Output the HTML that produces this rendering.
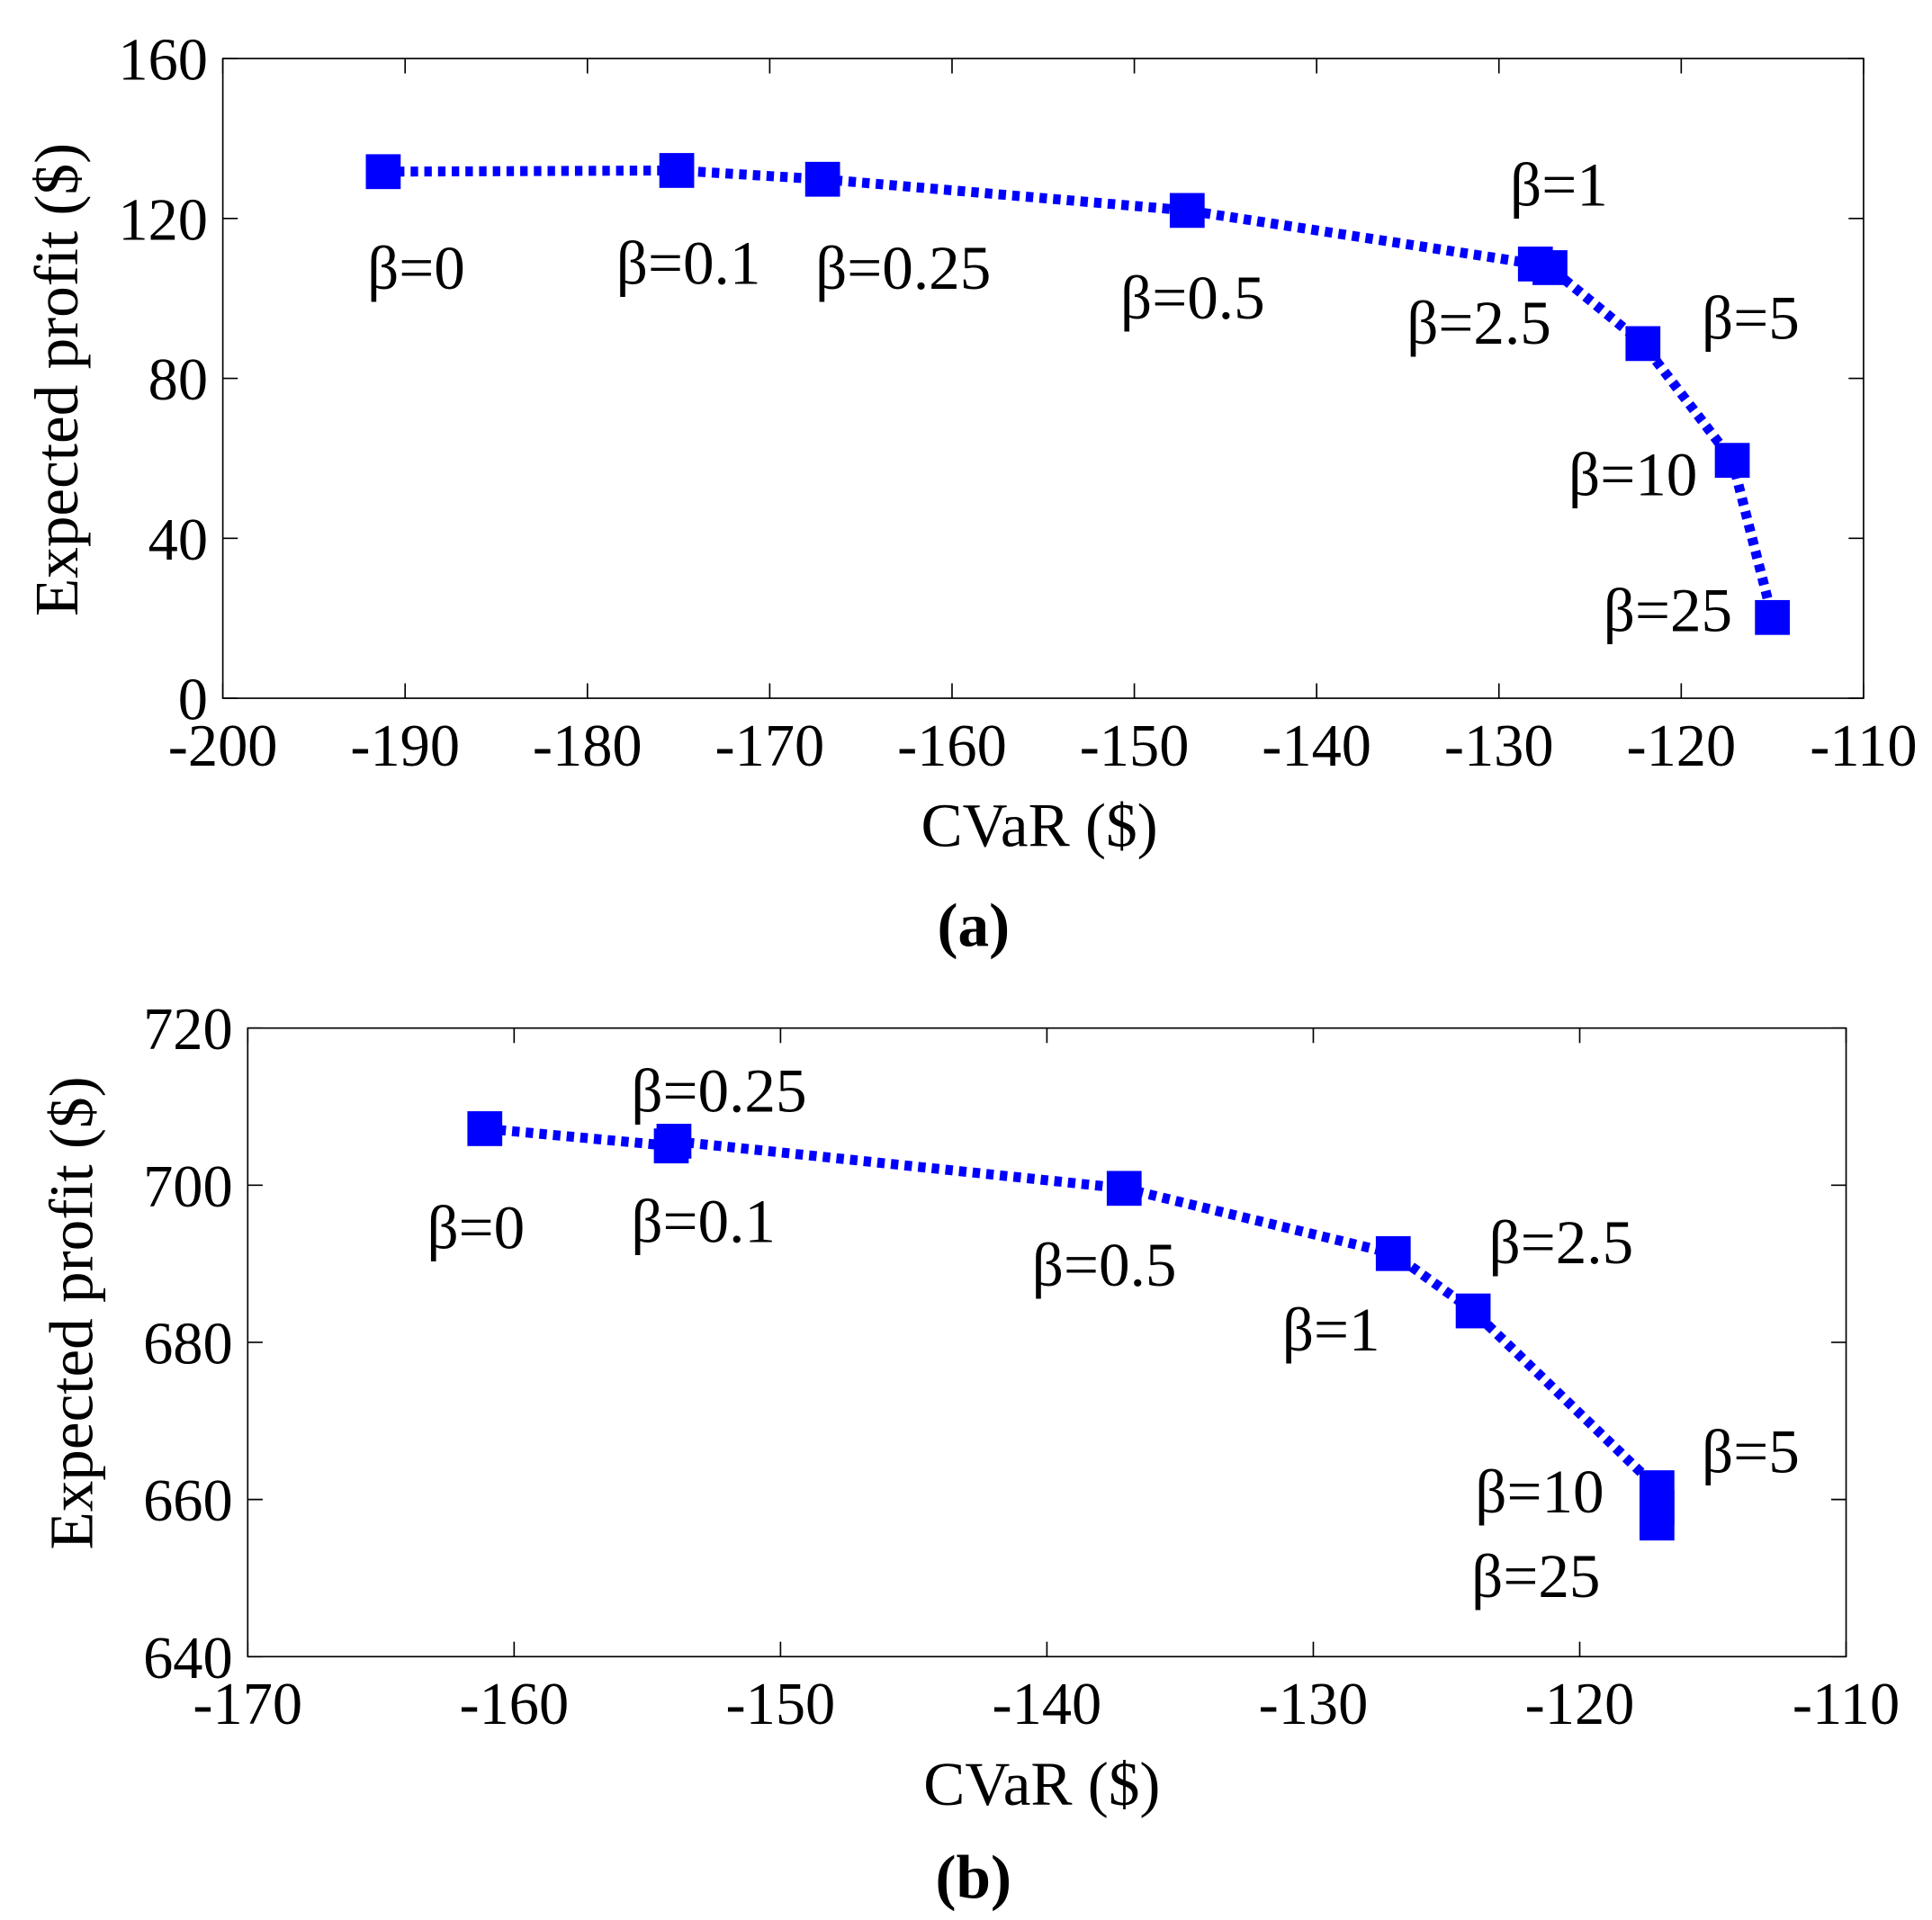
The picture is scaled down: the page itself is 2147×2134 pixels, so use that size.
<!DOCTYPE html>
<html><head><meta charset="utf-8"><style>html,body{margin:0;padding:0;background:#fff}svg{display:block}text{font-family:"Liberation Serif",serif;fill:#000}</style></head>
<body>
<svg id="fig" width="2147" height="2134" viewBox="0 0 1552 1542.6" preserveAspectRatio="none" xmlns="http://www.w3.org/2000/svg"></svg>
<script>
// Panel (a) data
const aLabels=["β=0","β=0.1","β=0.25","β=0.5","β=1","β=2.5","β=5","β=10","β=25"];
const aX=[-191.2,-175.1,-167.1,-147.1,-128.0,-127.2,-122.1,-117.2,-115.0];
const aY=[131.7,132.0,129.8,122.0,108.6,107.7,88.7,59.5,20.2];
const aXTicks=[-200,-190,-180,-170,-160,-150,-140,-130,-120,-110];
const aYTicks=[0,40,80,120,160];
// Panel (b) data
const bLabels=["β=0","β=0.1","β=0.25","β=0.5","β=1","β=2.5","β=5","β=10","β=25"];
const bX=[-161.1,-154.1,-154.0,-137.1,-127.0,-124.0,-117.1,-117.1,-117.1];
const bY=[707.2,705.0,705.6,699.6,691.3,684.0,661.5,659.0,657.0];
const bXTicks=[-170,-160,-150,-140,-130,-120,-110];
const bYTicks=[640,660,680,700,720];

const NS="http://www.w3.org/2000/svg";
const svg=document.getElementById('fig');
function mk(tag,attrs,parent,txt){const e=document.createElementNS(NS,tag);for(const k in attrs)e.setAttribute(k,attrs[k]);if(txt!==undefined)e.textContent=txt;(parent||svg).appendChild(e);return e;}

function panel(cfg){
  const g=mk('g',{});
  
  
  const sx=v=>cfg.L+(v-cfg.xmin)/(cfg.xmax-cfg.xmin)*(cfg.R-cfg.L);
  const sy=v=>cfg.B-(v-cfg.ymin)/(cfg.ymax-cfg.ymin)*(cfg.B-cfg.T);
  const box=mk('rect',{x:cfg.L,y:cfg.T,width:cfg.R-cfg.L,height:cfg.B-cfg.T,fill:'none',stroke:'#000','stroke-width':1.2},g);
  
  
  cfg.xt.forEach(v=>{
    const x=sx(v);
    mk('line',{x1:x,y1:cfg.B,x2:x,y2:cfg.B-12,stroke:'#000','stroke-width':1.2},g);
    mk('line',{x1:x,y1:cfg.T,x2:x,y2:cfg.T+12,stroke:'#000','stroke-width':1.2},g);
    const t=mk('text',{x:x,y:cfg.B+54,'text-anchor':'middle','font-size':48},g,String(v).replace('-','-'));
    
    
  });
  cfg.yt.forEach(v=>{
    const y=sy(v);
    mk('line',{x1:cfg.L,y1:y,x2:cfg.L+12,y2:y,stroke:'#000','stroke-width':1.2},g);
    mk('line',{x1:cfg.R,y1:y,x2:cfg.R-12,y2:y,stroke:'#000','stroke-width':1.2},g);
    const t=mk('text',{x:cfg.L-12,y:y+17,'text-anchor':'end','font-size':48},g,String(v));
    
    
  });
  const pts=cfg.xs.map((v,i)=>sx(v)+','+sy(cfg.ys[i])).join(' ');
  const line=mk('polyline',{points:pts,fill:'none',stroke:'#0000ff','stroke-width':8,'stroke-dasharray':'6 5'},g);
  
  
  cfg.xs.forEach((v,i)=>{
    const m=mk('rect',{x:sx(v)-14,y:sy(cfg.ys[i])-14,width:28,height:28,fill:'#0000ff'},g);
    
    
  });
  cfg.labels.forEach((s,i)=>{
    const t=mk('text',{x:cfg.lp[i][0],y:cfg.lp[i][1],'font-size':50},g,s);
    
    
  });
  const xt=mk('text',{x:cfg.xtitle[0],y:cfg.xtitle[1],'text-anchor':'middle','font-size':50},g,'CVaR ($)');
  
  
  const yt=mk('text',{x:0,y:0,'text-anchor':'middle','font-size':50,transform:`translate(${cfg.ytitle[0]},${cfg.ytitle[1]}) rotate(-90)`},g,'Expected profit ($)');
  
  
  const cap=mk('text',{x:782,y:cfg.cap,'text-anchor':'middle','font-size':50,'font-weight':'bold'},g,cfg.capText);
  
  
}

panel({name:'panel-a',L:179,R:1497,T:47,B:561,xmin:-200,xmax:-110,ymin:0,ymax:160,
  xt:aXTicks,yt:aYTicks,xs:aX,ys:aY,labels:aLabels,
  lp:[[295,232],[495,228],[655,232],[900,256],[1213,165],[1130,276],[1367,272],[1260,398],[1288,507]],
  xtitle:[835,680],ytitle:[62,305],cap:760,capText:'(a)'});
panel({name:'panel-b',L:199,R:1483,T:826,B:1331,xmin:-170,xmax:-110,ymin:640,ymax:720,
  xt:bXTicks,yt:bYTicks,xs:bX,ys:bY,labels:bLabels,
  lp:[[343,1003],[507,998],[507,893],[829,1033],[1030,1085],[1196,1015],[1367,1183],[1185,1215],[1182,1283]],
  xtitle:[837,1450],ytitle:[74,1055],cap:1525,capText:'(b)'});
</script>
</body></html>
